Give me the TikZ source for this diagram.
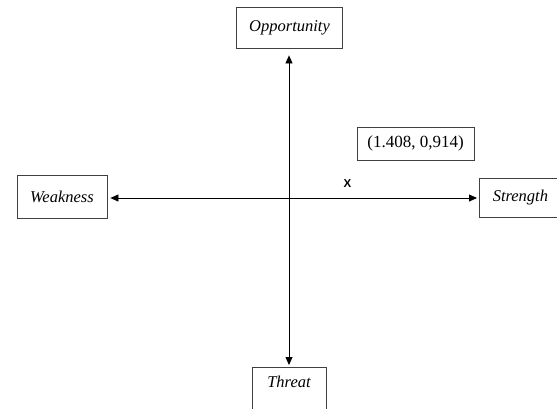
\documentclass[tikz,border=0pt]{standalone}
\usepackage{fontspec}
\setmainfont{Liberation Serif}
\setsansfont{Liberation Sans}
\usetikzlibrary{arrows.meta}
\definecolor{boxgray}{HTML}{404040}
\tikzset{
  quad/.style={draw=boxgray, line width=0.8pt, rectangle, inner sep=0pt,
    font=\fontsize{16.5}{19}\selectfont\itshape, align=center},
  axis/.style={line width=0.8pt, {Triangle[length=8pt,width=7pt]}-{Triangle[length=8pt,width=7pt]}}
}
\begin{document}
\begin{tikzpicture}[x=1pt,y=-1pt]
\useasboundingbox (0,0) rectangle (557,408);
\node[quad, minimum width=106pt, minimum height=41pt] (opp) at (289.5,27.5) {Opportunity};
\node[quad, minimum width=90pt, minimum height=43pt] (weak) at (62,196.5) {Weakness};
\node[quad, anchor=west, minimum width=82pt, minimum height=39pt] (str) at (479,197.5) {Strength};
\node[quad, anchor=north, minimum width=74pt, text height=11pt, text depth=24pt, inner ysep=9pt] (thr) at (289,367) {Threat};
\node[draw=boxgray, line width=0.8pt, minimum width=117pt, minimum height=33pt, inner sep=0pt,
  font=\fontsize{17}{20}\selectfont] (pt) at (415.5,143.5) {(1.408, 0,914)};
\node[font=\sffamily\bfseries\fontsize{11.5}{14}\selectfont] (xl) at (347.5,184) {X};
\draw[axis, shorten <=7pt, shorten >=2pt] (opp.south -| thr.north) -- (thr.north);
\draw[axis, shorten <=3pt, shorten >=2pt] (weak.east |- 0,198) -- (str.west |- 0,198);
\end{tikzpicture}
\end{document}
